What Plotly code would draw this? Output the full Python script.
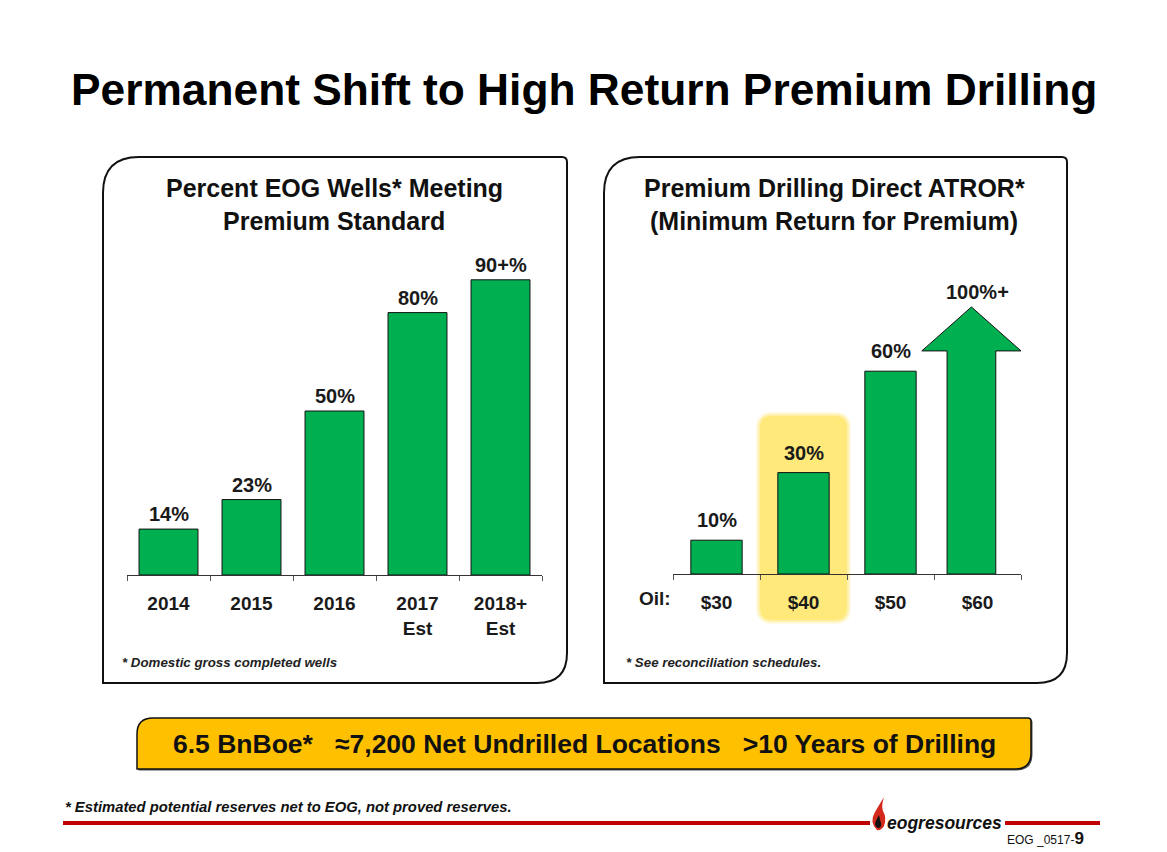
import plotly.graph_objects as go

W, H = 1167, 852

# ---------------- data ----------------
left_categories = ["2014", "2015", "2016", "2017<br>Est", "2018+<br>Est"]
left_values = [14, 23, 50, 80, 90]
left_labels = ["14%", "23%", "50%", "80%", "90+%"]

right_categories = ["$30", "$40", "$50", "$60"]
right_values = [10, 30, 60]
right_labels = ["10%", "30%", "60%"]
arrow_label = "100%+"
arrow_levels = [66, 79]          # arrow head base, arrow tip (in % units)

GREEN = "#00B050"
FONT = "Liberation Sans, Arial, sans-serif"
NARROW = "Liberation Sans Narrow, Arial Narrow, Liberation Sans, Arial, sans-serif"


def fx(x):
    return x / W


def fy(y):
    return 1 - y / H


def rrect(x0, y0, x1, y1, rtl=0, rtr=0, rbr=0, rbl=0):
    pts = []
    pts.append(f"M {fx(x0 + rtl)},{fy(y0)}")
    pts.append(f"L {fx(x1 - rtr)},{fy(y0)}")
    if rtr:
        pts.append(f"Q {fx(x1)},{fy(y0)} {fx(x1)},{fy(y0 + rtr)}")
    pts.append(f"L {fx(x1)},{fy(y1 - rbr)}")
    if rbr:
        pts.append(f"Q {fx(x1)},{fy(y1)} {fx(x1 - rbr)},{fy(y1)}")
    pts.append(f"L {fx(x0 + rbl)},{fy(y1)}")
    if rbl:
        pts.append(f"Q {fx(x0)},{fy(y1)} {fx(x0)},{fy(y1 - rbl)}")
    pts.append(f"L {fx(x0)},{fy(y0 + rtl)}")
    if rtl:
        pts.append(f"Q {fx(x0)},{fy(y0)} {fx(x0 + rtl)},{fy(y0)}")
    pts.append("Z")
    return " ".join(pts)


fig = go.Figure()

# ---------------- left chart ----------------
lx = list(range(len(left_categories)))
fig.add_trace(go.Bar(
    x=lx, y=left_values, width=0.71, xaxis="x", yaxis="y",
    marker=dict(color=GREEN, line=dict(color="#111111", width=1)),
    hoverinfo="skip", showlegend=False,
))

# ---------------- right chart ----------------
rx = list(range(len(right_values)))
fig.add_trace(go.Bar(
    x=rx, y=right_values, width=0.59, xaxis="x2", yaxis="y2",
    marker=dict(color=GREEN, line=dict(color="#111111", width=1)),
    hoverinfo="skip", showlegend=False,
))

ai = len(right_categories) - 1
ac = ai - 0.07
sw, hw = 0.28, 0.57
ax_pts = [ac - sw, ac - sw, ac - hw, ac, ac + hw, ac + sw, ac + sw, ac - sw]
ay_pts = [0, arrow_levels[0], arrow_levels[0], arrow_levels[1], arrow_levels[0],
          arrow_levels[0], 0, 0]
fig.add_trace(go.Scatter(
    x=ax_pts, y=ay_pts, xaxis="x2", yaxis="y2", mode="lines",
    fill="toself", fillcolor=GREEN, line=dict(color="#111111", width=1),
    hoverinfo="skip", showlegend=False,
))

tickfont = dict(family=FONT, size=19, color="#1a1a1a")

fig.update_layout(
    width=W, height=H,
    margin=dict(l=0, r=0, t=0, b=0),
    paper_bgcolor="white", plot_bgcolor="rgba(0,0,0,0)",
    xaxis=dict(
        domain=[fx(127), fx(542)], range=[-0.5, len(left_categories) - 0.5],
        tickmode="array", tickvals=lx,
        ticktext=[f"<b>{c}</b>" for c in left_categories],
        tickfont=tickfont, ticks="", showgrid=False, zeroline=False,
        showline=True, linecolor="#333333", linewidth=1,
        minor=dict(tickmode="array", tickvals=[i - 0.5 for i in range(len(left_categories) + 1)],
                   ticks="outside", ticklen=5, tickcolor="#555555", tickwidth=1, showgrid=False),
        ticklabelstandoff=11, fixedrange=True,
    ),
    yaxis=dict(
        domain=[fy(575), fy(250)], range=[0, 325 / 3.28],
        visible=False, fixedrange=True,
    ),
    xaxis2=dict(
        domain=[fx(673), fx(1021)], range=[-0.5, len(right_categories) - 0.5],
        anchor="y2",
        tickmode="array", tickvals=list(range(len(right_categories))),
        ticktext=[f"<b>{c}</b>" for c in right_categories],
        tickfont=tickfont, ticks="", showgrid=False, zeroline=False,
        showline=True, linecolor="#333333", linewidth=1,
        minor=dict(tickmode="array", tickvals=[i - 0.5 for i in range(len(right_categories) + 1)],
                   ticks="outside", ticklen=5, tickcolor="#555555", tickwidth=1, showgrid=False),
        ticklabelstandoff=11, fixedrange=True,
    ),
    yaxis2=dict(
        domain=[fy(574), fy(250)], range=[0, 324 / 3.38],
        visible=False, fixedrange=True,
    ),
)

shapes = []
# highlight behind $40 (soft edges)
for grow, op in [(4, 0.25), (2, 0.5), (0, 1.0)]:
    shapes.append(dict(
        type="path", xref="paper", yref="paper", layer="below",
        path=rrect(760 - grow, 416 - grow, 847 + grow, 620 + grow, 12 + grow, 12 + grow, 12 + grow, 12 + grow),
        fillcolor="#FFE97A", opacity=op, line=dict(width=0),
    ))
# panel frames
for x0, x1 in [(103, 567), (604, 1067)]:
    shapes.append(dict(
        type="path", xref="paper", yref="paper", layer="below",
        path=rrect(x0, 157, x1, 683, rtl=36, rtr=5, rbr=30, rbl=0),
        fillcolor="rgba(0,0,0,0)", line=dict(color="#111111", width=2),
    ))
# bottom yellow box (shadow + box)
shapes.append(dict(
    type="path", xref="paper", yref="paper", layer="below",
    path=rrect(138.5, 719.5, 1032.5, 770.5, rtl=16, rtr=3, rbr=16, rbl=0),
    fillcolor="#555555", line=dict(width=0),
))
shapes.append(dict(
    type="path", xref="paper", yref="paper", layer="below",
    path=rrect(137, 718, 1031, 769, rtl=16, rtr=3, rbr=16, rbl=0),
    fillcolor="#FFC000", line=dict(color="#111111", width=1.5),
))
# red footer lines
shapes.append(dict(type="line", xref="paper", yref="paper",
                   x0=fx(63), x1=fx(870), y0=fy(823), y1=fy(823),
                   line=dict(color="#C00000", width=4)))
shapes.append(dict(type="line", xref="paper", yref="paper",
                   x0=fx(1005), x1=fx(1100), y0=fy(823), y1=fy(823),
                   line=dict(color="#C00000", width=4)))
# logo flame
flame = (f"M {fx(877)},{fy(830)} Q {fx(869)},{fy(822)} {fx(875)},{fy(812)} "
         f"Q {fx(879)},{fy(805)} {fx(884)},{fy(797)} Q {fx(881)},{fy(806)} {fx(883)},{fy(811)} "
         f"Q {fx(887)},{fy(818)} {fx(884)},{fy(826)} Q {fx(881)},{fy(831)} {fx(877)},{fy(830)} Z")
shapes.append(dict(type="path", xref="paper", yref="paper", path=flame,
                   fillcolor="#D42A1E", line=dict(width=0)))
drop = (f"M {fx(878)},{fy(828)} Q {fx(874)},{fy(826)} {fx(875.5)},{fy(822)} "
        f"Q {fx(877)},{fy(818)} {fx(879)},{fy(815)} Q {fx(880)},{fy(820)} {fx(881)},{fy(823)} "
        f"Q {fx(882)},{fy(828)} {fx(878)},{fy(828)} Z")
shapes.append(dict(type="path", xref="paper", yref="paper", path=drop,
                   fillcolor="#111111", line=dict(width=0)))
fig.update_layout(shapes=shapes)

ann = []


def txt(x, y, s, size, xanchor="center", family=FONT, color="#000000"):
    ann.append(dict(x=fx(x), y=fy(y), xref="paper", yref="paper", text=s,
                    showarrow=False, xanchor=xanchor, yanchor="middle",
                    font=dict(family=family, size=size, color=color)))


txt(584, 90, "<b>Permanent Shift to High Return Premium Drilling</b>", 44.3)
txt(334, 188, "<b>Percent EOG Wells* Meeting</b>", 25, color="#111111")
txt(334, 221, "<b>Premium Standard</b>", 25, color="#111111")
txt(834, 188, "<b>Premium Drilling Direct ATROR*</b>", 25, color="#111111")
txt(834, 221, "<b>(Minimum Return for Premium)</b>", 25, color="#111111")
txt(120, 662, "<b><i>* Domestic gross completed wells</i></b>", 13.3, xanchor="left", color="#222222")
txt(624, 662, "<b><i>* See reconciliation schedules.</i></b>", 13.3, xanchor="left", color="#222222")
txt(655, 598, "<b>Oil:</b>", 19, color="#1a1a1a")
txt(584, 744, "<b>6.5 BnBoe*   ≈7,200 Net Undrilled Locations   >10 Years of Drilling</b>", 26.5,
    family=NARROW, color="#111111")
txt(63, 807, "<b><i>* Estimated potential reserves net to EOG, not proved reserves.</i></b>", 14.8,
    xanchor="left", family=NARROW, color="#111111")
txt(885, 823, "<b><i>eogresources</i></b>", 17.5, xanchor="left", color="#111111")
txt(1005, 838, "EOG _0517-<b><span style='font-size:17px'>9</span></b>", 12, xanchor="left",
    family=NARROW, color="#111111")

for i, (v, s) in enumerate(zip(left_values, left_labels)):
    ann.append(dict(x=i, y=v, xref="x", yref="y", text=f"<b>{s}</b>", showarrow=False,
                    yanchor="bottom", yshift=2, font=dict(family=FONT, size=20, color="#1a1a1a")))
for i, (v, s) in enumerate(zip(right_values, right_labels)):
    ann.append(dict(x=i, y=v, xref="x2", yref="y2", text=f"<b>{s}</b>", showarrow=False,
                    yanchor="bottom", yshift=7, font=dict(family=FONT, size=20, color="#1a1a1a")))
ann.append(dict(x=ai, y=arrow_levels[1], xref="x2", yref="y2", text=f"<b>{arrow_label}</b>",
                showarrow=False, yanchor="bottom", yshift=2,
                font=dict(family=FONT, size=20, color="#1a1a1a")))

fig.update_layout(annotations=ann)
fig.write_html(
    "out.html",
    config={"displayModeBar": False},
    post_script="document.body.style.margin='0';document.body.style.overflow='hidden';",
)
